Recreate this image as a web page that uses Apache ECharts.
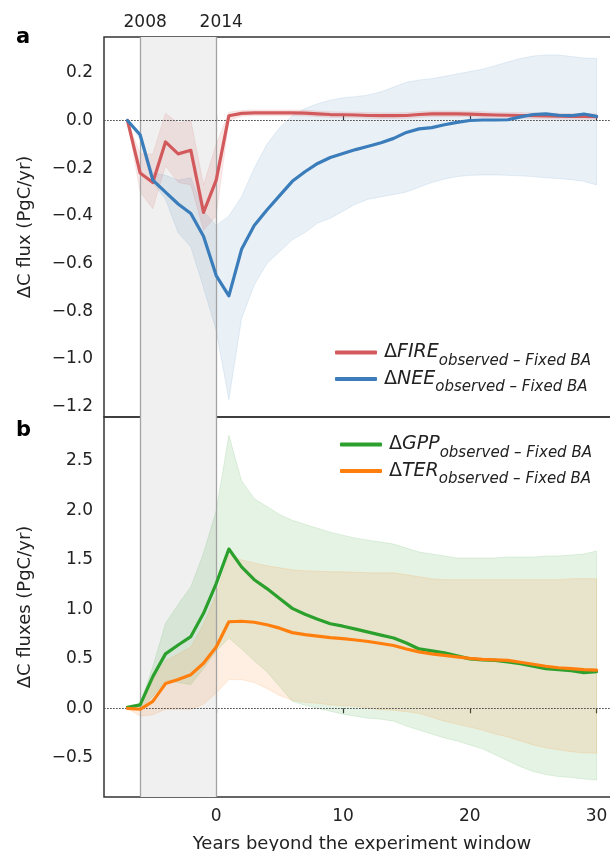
<!DOCTYPE html>
<html>
<head>
<meta charset="utf-8">
<script src="https://cdn.jsdelivr.net/npm/echarts@6/dist/echarts.min.js"></script>
<style>
  html, body { margin: 0; padding: 0; background: #fff; }
  #chart { width: 610px; height: 851px; }
</style>
</head>
<body>
<div id="chart"></div>
<script>
// years relative to the end of the experiment window
const years = [-7, -6, -5, -4, -3, -2, -1, 0, 1, 2, 3, 4, 5, 6, 7, 8, 9, 10, 11, 12,
  13, 14, 15, 16, 17, 18, 19, 20, 21, 22, 23, 24, 25, 26, 27, 28, 29, 30];

// panel a
const fire = [0, -0.22, -0.26, -0.09, -0.14, -0.125, -0.385, -0.25, 0.02, 0.03, 0.032, 0.032, 0.032, 0.032, 0.031, 0.028, 0.025, 0.024, 0.023, 0.021,
  0.02, 0.02, 0.021, 0.025, 0.028, 0.028, 0.028, 0.027, 0.025, 0.023, 0.022, 0.021, 0.02, 0.019, 0.018, 0.017, 0.017, 0.016];
const fireLow = [0, -0.30, -0.37, -0.19, -0.26, -0.27, -0.46, -0.40, 0.0, 0.018, 0.02, 0.02, 0.02, 0.02, 0.019, 0.016, 0.013, 0.012, 0.011, 0.009,
  0.008, 0.008, 0.009, 0.013, 0.016, 0.016, 0.016, 0.015, 0.013, 0.011, 0.01, 0.009, 0.008, 0.007, 0.006, 0.005, 0.005, 0.004];
const fireHigh = [0, -0.14, -0.14, 0.03, -0.01, 0.0, -0.27, -0.10, 0.035, 0.042, 0.044, 0.044, 0.044, 0.044, 0.043, 0.04, 0.037, 0.036, 0.035, 0.033,
  0.032, 0.032, 0.033, 0.037, 0.04, 0.04, 0.04, 0.039, 0.037, 0.035, 0.034, 0.033, 0.032, 0.031, 0.03, 0.029, 0.029, 0.028];
const nee = [0, -0.06, -0.25, -0.30, -0.35, -0.39, -0.485, -0.65, -0.735, -0.54, -0.44, -0.375, -0.315, -0.255, -0.215, -0.18, -0.155, -0.138, -0.122, -0.108,
  -0.093, -0.075, -0.05, -0.035, -0.03, -0.018, -0.008, 0.0, 0.002, 0.002, 0.003, 0.015, 0.025, 0.028, 0.022, 0.02, 0.027, 0.017];
const neeLow = [0, -0.08, -0.26, -0.33, -0.47, -0.53, -0.70, -0.88, -1.17, -0.83, -0.69, -0.60, -0.55, -0.50, -0.47, -0.43, -0.41, -0.38, -0.35, -0.33,
  -0.32, -0.31, -0.30, -0.28, -0.26, -0.245, -0.235, -0.23, -0.228, -0.228, -0.23, -0.232, -0.235, -0.24, -0.243, -0.248, -0.255, -0.27];
const neeHigh = [0, -0.05, -0.22, -0.23, -0.25, -0.24, -0.38, -0.44, -0.40, -0.32, -0.20, -0.10, -0.03, 0.02, 0.05, 0.07, 0.085, 0.095, 0.10, 0.107,
  0.12, 0.14, 0.16, 0.17, 0.175, 0.185, 0.195, 0.205, 0.215, 0.23, 0.245, 0.26, 0.27, 0.275, 0.275, 0.268, 0.262, 0.26];

// panel b
const gpp = [0.01, 0.035, 0.32, 0.55, 0.64, 0.725, 0.96, 1.26, 1.61, 1.43, 1.30, 1.21, 1.11, 1.01, 0.95, 0.90, 0.855, 0.83, 0.80, 0.77,
  0.74, 0.71, 0.66, 0.60, 0.58, 0.56, 0.53, 0.50, 0.49, 0.485, 0.47, 0.45, 0.425, 0.40, 0.39, 0.38, 0.36, 0.37];
const gppLow = [0, 0.0, 0.12, 0.28, 0.26, 0.24, 0.40, 0.58, 0.71, 0.60, 0.48, 0.37, 0.22, 0.07, 0.03, 0.0, -0.03, -0.06, -0.08, -0.10,
  -0.11, -0.13, -0.18, -0.22, -0.26, -0.30, -0.33, -0.37, -0.41, -0.47, -0.53, -0.59, -0.64, -0.67, -0.69, -0.70, -0.715, -0.725];
const gppHigh = [0.01, 0.05, 0.42, 0.86, 1.05, 1.23, 1.57, 2.0, 2.76, 2.30, 2.12, 2.04, 1.96, 1.90, 1.86, 1.82, 1.78, 1.75, 1.72, 1.70,
  1.68, 1.66, 1.62, 1.58, 1.56, 1.54, 1.52, 1.52, 1.52, 1.52, 1.53, 1.53, 1.53, 1.54, 1.54, 1.55, 1.56, 1.59];
const ter = [0, -0.01, 0.07, 0.25, 0.29, 0.34, 0.455, 0.62, 0.875, 0.88, 0.87, 0.845, 0.81, 0.765, 0.745, 0.73, 0.715, 0.705, 0.69, 0.675,
  0.655, 0.635, 0.60, 0.57, 0.55, 0.535, 0.52, 0.505, 0.495, 0.49, 0.485, 0.465, 0.445, 0.425, 0.41, 0.40, 0.39, 0.385];
const terLow = [0, -0.08, -0.065, -0.01, -0.01, -0.01, 0.04, 0.155, 0.29, 0.29, 0.26, 0.20, 0.13, 0.08, 0.06, 0.05, 0.035, 0.025, 0.02, 0.0,
  -0.015, -0.02, -0.035, -0.05, -0.09, -0.13, -0.16, -0.19, -0.22, -0.26, -0.29, -0.33, -0.37, -0.40, -0.42, -0.44, -0.45, -0.455];
const terHigh = [0, 0.02, 0.28, 0.48, 0.55, 0.62, 0.85, 1.15, 1.55, 1.50, 1.47, 1.44, 1.42, 1.40, 1.39, 1.385, 1.38, 1.38, 1.375, 1.37,
  1.37, 1.37, 1.35, 1.33, 1.31, 1.30, 1.30, 1.30, 1.30, 1.30, 1.30, 1.30, 1.30, 1.30, 1.30, 1.31, 1.31, 1.31];

const yTicksA = [0.2, 0.0, -0.2, -0.4, -0.6, -0.8, -1.0, -1.2];
const yTicksB = [2.5, 2.0, 1.5, 1.0, 0.5, 0.0, -0.5];
const xTicks = [0, 10, 20, 30];
const windowYears = [[-6, '2008'], [0, '2014']];

const FONT = 'DejaVu Sans';
const INK = '#222';
const FRAME = '#333';

function fmt(v) {
  return v.toFixed(1).replace('-', '\u2212');
}
function pairs(arr) {
  return years.map((x, i) => [x, arr[i]]);
}

// uncertainty band: one polygon, upper edge then lower edge back
function band(low, high, fill, edge, gi) {
  return {
    type: 'custom', xAxisIndex: gi, yAxisIndex: gi, silent: true, z: 2, clip: true,
    data: [[years[0], low[0]]],
    renderItem: function (params, api) {
      const pts = [];
      for (let i = 0; i < years.length; i++) pts.push(api.coord([years[i], high[i]]));
      for (let i = years.length - 1; i >= 0; i--) pts.push(api.coord([years[i], low[i]]));
      return {
        type: 'polygon',
        shape: { points: pts },
        style: { fill: fill, stroke: edge, lineWidth: 1 }
      };
    }
  };
}

// gray experiment window, carried by an empty helper series
function helper(gi, withLabel) {
  return {
    type: 'custom', xAxisIndex: gi, yAxisIndex: gi, silent: true, z: 1,
    data: [[years[0], 0]],
    renderItem: function () { return null; },
    markArea: {
      silent: true,
      itemStyle: { color: '#f0f0f0' },
      data: [[{ xAxis: -6 }, { xAxis: 0 }]]
    },
    markLine: {
      silent: true, symbol: 'none', animation: false,
      lineStyle: { color: '#a3a3a3', width: 1.3, type: 'solid' },
      label: withLabel ? {
        show: true, position: 'end', formatter: p => windowYears.find(w => w[0] === p.value)[1],
        fontFamily: FONT, fontSize: 17, color: INK, distance: 6, offset: [5, 0]
      } : { show: false },
      data: windowYears.map(w => ({ xAxis: w[0] }))
    }
  };
}

const zeroLine = {
  silent: true, symbol: 'none', animation: false,
  lineStyle: { color: '#555', width: 1, type: [1.5, 1.5] },
  label: { show: false },
  data: [{ yAxis: 0 }]
};

function lineSeries(name, arr, color, gi) {
  return {
    name: name, type: 'line', xAxisIndex: gi, yAxisIndex: gi,
    data: pairs(arr), symbol: 'none', z: 5,
    lineStyle: { width: 3.2, color: color, cap: 'round', join: 'round' },
    itemStyle: { color: color },
    markLine: zeroLine
  };
}

const legendRich = {
  d: { fontFamily: FONT, fontSize: 19, lineHeight: 32, color: INK, padding: [0, 0, 0, 2] },
  m: { fontFamily: FONT, fontSize: 19, lineHeight: 32, fontStyle: 'italic', color: INK },
  s: { fontFamily: FONT, fontSize: 15, lineHeight: 20, fontStyle: 'italic', color: INK, verticalAlign: 'bottom' }
};
function legendFmt(name) {
  return '{d|\u0394}{m|' + name + '}{s|observed \u2013 Fixed BA}';
}

const xAxisBase = {
  type: 'value', min: -8.85, max: 31.85,
  axisLine: { show: false },
  splitLine: { show: false },
  axisTick: { show: true, customValues: xTicks, length: 5, inside: true, lineStyle: { color: FRAME, width: 1.2 } }
};
const yAxisBase = {
  type: 'value',
  axisLine: { show: false },
  splitLine: { show: false },
  nameLocation: 'middle', nameGap: 70,
  nameTextStyle: { fontFamily: FONT, fontSize: 18, color: INK }
};

const chart = echarts.init(document.getElementById('chart'), null, { renderer: 'canvas' });

const option = {
  animation: false,
  backgroundColor: '#fff',
  title: [
    { text: 'a', left: 11, top: 22, textStyle: { fontFamily: FONT, fontSize: 21, fontWeight: 'bold', color: '#000' } },
    { text: 'b', left: 11, top: 415, textStyle: { fontFamily: FONT, fontSize: 21, fontWeight: 'bold', color: '#000' } }
  ],
  grid: [
    { left: 104, top: 37, width: 516, height: 380, outerBoundsMode: 'none', show: true, borderColor: FRAME, borderWidth: 1.5, backgroundColor: 'transparent' },
    { left: 104, top: 417, width: 516, height: 380, outerBoundsMode: 'none', show: true, borderColor: FRAME, borderWidth: 1.5, backgroundColor: 'transparent' }
  ],
  xAxis: [
    Object.assign({}, xAxisBase, { gridIndex: 0, axisLabel: { show: false } }),
    Object.assign({}, xAxisBase, {
      gridIndex: 1,
      axisTick: { show: true, customValues: xTicks, length: 5, lineStyle: { color: FRAME, width: 1.2 } },
      axisLabel: { show: true, customValues: xTicks, fontFamily: FONT, fontSize: 17, color: INK, margin: 11 },
      name: 'Years beyond the experiment window', nameLocation: 'middle', nameGap: 38,
      nameTextStyle: { fontFamily: FONT, fontSize: 18, color: INK }
    })
  ],
  yAxis: [
    Object.assign({}, yAxisBase, {
      gridIndex: 0, min: -1.243, max: 0.35,
      name: '\u0394C flux (PgC/yr)',
      axisTick: { show: true, customValues: yTicksA, length: 5, lineStyle: { color: FRAME, width: 1.2 } },
      axisLabel: { customValues: yTicksA, formatter: fmt, fontFamily: FONT, fontSize: 17, color: INK, margin: 11 }
    }),
    Object.assign({}, yAxisBase, {
      gridIndex: 1, min: -0.897, max: 2.945,
      name: '\u0394C fluxes (PgC/yr)',
      axisTick: { show: true, customValues: yTicksB, length: 5, lineStyle: { color: FRAME, width: 1.2 } },
      axisLabel: { customValues: yTicksB, formatter: fmt, fontFamily: FONT, fontSize: 17, color: INK, margin: 11 }
    })
  ],
  legend: [
    {
      data: ['FIRE', 'NEE'], orient: 'vertical', left: 330, top: 338, itemGap: 1,
      icon: 'roundRect', itemWidth: 42, itemHeight: 4,
      formatter: legendFmt, textStyle: { rich: legendRich }
    },
    {
      data: ['GPP', 'TER'], orient: 'vertical', left: 335, top: 430, itemGap: 1,
      icon: 'roundRect', itemWidth: 42, itemHeight: 4,
      formatter: legendFmt, textStyle: { rich: legendRich }
    }
  ],
  series: [
    helper(0, true),
    band(neeLow, neeHigh, 'rgba(58,125,186,0.11)', 'rgba(58,125,186,0.12)', 0),
    band(fireLow, fireHigh, 'rgba(211,90,92,0.13)', 'rgba(211,90,92,0.12)', 0),
    lineSeries('FIRE', fire, '#d35a5c', 0),
    lineSeries('NEE', nee, '#3a7dba', 0),
    helper(1, false),
    band(gppLow, gppHigh, 'rgba(44,160,44,0.12)', 'rgba(44,160,44,0.12)', 1),
    band(terLow, terHigh, 'rgba(255,127,14,0.12)', 'rgba(255,127,14,0.14)', 1),
    lineSeries('GPP', gpp, '#2ca02c', 1),
    lineSeries('TER', ter, '#ff7f0e', 1)
  ]
};

chart.setOption(option);
</script>
</body>
</html>
